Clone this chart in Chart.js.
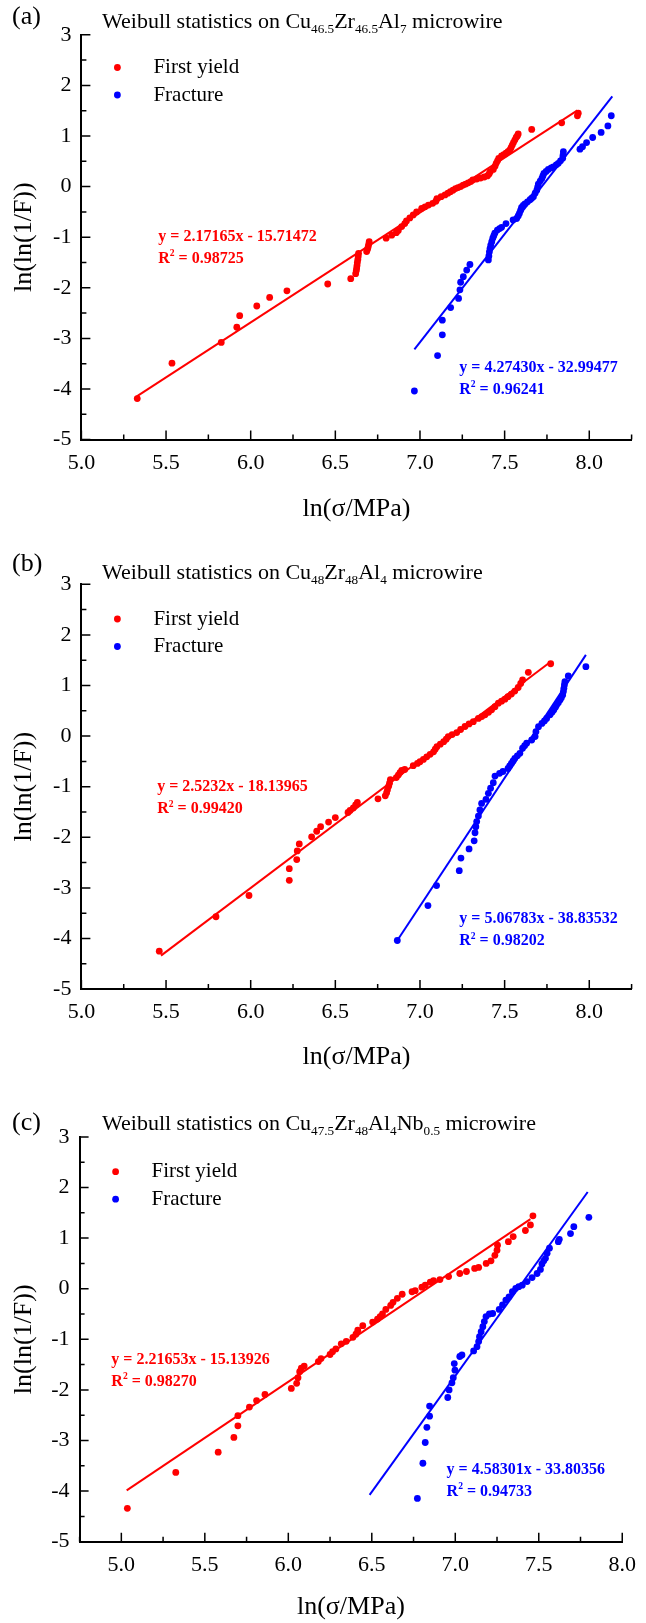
<!DOCTYPE html>
<html>
<head>
<meta charset="utf-8">
<script src="https://cdn.jsdelivr.net/npm/chart.js@4.4.0/dist/chart.umd.min.js"></script>
<style>
body { margin: 0; background: #fff; }
#wrap { position: relative; width: 646px; height: 1623px; }
canvas { position: absolute; left: 0; }
</style>
</head>
<body>
<div id="wrap">
  <canvas id="chartA" width="646" height="540" style="top:0"></canvas>
  <canvas id="chartB" width="646" height="540" style="top:540px"></canvas>
  <canvas id="chartC" width="646" height="543" style="top:1080px"></canvas>
</div>
<script>
const FONT = "'Liberation Serif', 'Times New Roman', serif";
const RED = '#ff0000';
const BLUE = '#0000ff';

//(a) Cu46.5Zr46.5Al7
const yieldA_x = [5.33, 5.535, 5.826, 5.918, 5.935, 6.036, 6.112, 6.214, 6.455, 6.591, 6.62, 6.624, 6.626, 6.628, 6.63, 6.633, 6.635, 6.637,
  6.685, 6.69, 6.694, 6.697, 6.7, 6.8, 6.833, 6.86, 6.872, 6.892, 6.91, 6.92, 6.94, 6.96, 6.98, 7.01, 7.03, 7.05, 7.075, 7.094, 7.1,
  7.125, 7.148, 7.165, 7.18, 7.195, 7.21, 7.225, 7.24, 7.255, 7.27, 7.285, 7.3, 7.312, 7.335, 7.358, 7.38, 7.398, 7.408, 7.415, 7.433,
  7.443, 7.45, 7.458, 7.465, 7.482, 7.495, 7.508, 7.52, 7.53, 7.538, 7.545, 7.552, 7.56, 7.568, 7.575, 7.58, 7.66, 7.837, 7.93, 7.935];
const yieldA_y = [-4.19, -3.49, -3.08, -2.78, -2.55, -2.36, -2.19, -2.06, -1.925, -1.82, -1.72, -1.66, -1.61, -1.56, -1.5, -1.44, -1.38, -1.32,
  -1.285, -1.24, -1.19, -1.14, -1.09, -1.02, -0.96, -0.91, -0.87, -0.79, -0.73, -0.68, -0.62, -0.56, -0.5, -0.43, -0.4, -0.365, -0.33, -0.29, -0.24,
  -0.2, -0.165, -0.13, -0.1, -0.07, -0.04, -0.02, 0, 0.03, 0.05, 0.075, 0.1, 0.13, 0.15, 0.17, 0.19, 0.21, 0.25, 0.295, 0.34,
  0.4, 0.46, 0.51, 0.555, 0.605, 0.63, 0.66, 0.69, 0.72, 0.77, 0.82, 0.87, 0.92, 0.97, 1.0, 1.04, 1.13, 1.26, 1.4, 1.45];
const fractureA_x = [6.967, 7.104, 7.132, 7.132, 7.181, 7.228, 7.236, 7.24, 7.256, 7.276, 7.295, 7.404, 7.407, 7.41, 7.414, 7.418, 7.424,
  7.43, 7.436, 7.442, 7.457, 7.47, 7.482, 7.508, 7.55, 7.571, 7.58, 7.587, 7.594, 7.6, 7.61, 7.62, 7.635, 7.65, 7.66, 7.67, 7.68, 7.69,
  7.695, 7.699, 7.71, 7.72, 7.726, 7.732, 7.745, 7.758, 7.775, 7.788, 7.805, 7.817, 7.83, 7.843, 7.845, 7.847, 7.945, 7.96, 7.984,
  8.02, 8.07, 8.11, 8.13];
const fractureA_y = [-4.04, -3.34, -2.93, -2.64, -2.39, -2.21, -2.04, -1.89, -1.78, -1.65, -1.54, -1.45, -1.37, -1.29, -1.22, -1.155, -1.09,
  -1.02, -0.97, -0.92, -0.86, -0.83, -0.805, -0.73, -0.66, -0.63, -0.58, -0.53, -0.47, -0.41, -0.37, -0.34, -0.3, -0.26, -0.23, -0.2, -0.13, -0.07,
  -0.01, 0.05, 0.11, 0.16, 0.21, 0.26, 0.3, 0.34, 0.37, 0.39, 0.43, 0.46, 0.51, 0.56, 0.62, 0.69, 0.74, 0.79, 0.87,
  0.97, 1.07, 1.2, 1.4];
// [slope, intercept, x start, x end]
const fitA = [[2.17165, -15.71472, 5.327, 7.93], [4.27430, -32.99477, 6.967, 8.136]];
const eqA = [['y = 2.17165x - 15.71472', '0.98725'], ['y = 4.27430x - 32.99477', '0.96241']];

//(b) Cu48Zr48Al4
const yieldB_x = [5.46, 5.795, 5.99, 6.228, 6.228, 6.272, 6.275, 6.287, 6.36, 6.39, 6.413, 6.46, 6.5, 6.575, 6.587, 6.606, 6.62, 6.63,
  6.752, 6.795, 6.803, 6.808, 6.815, 6.82, 6.825, 6.86, 6.872, 6.882, 6.892, 6.91, 6.96, 6.985, 7.0, 7.02, 7.04, 7.06, 7.08, 7.09, 7.1,
  7.12, 7.14, 7.155, 7.167, 7.19, 7.217, 7.24, 7.266, 7.29, 7.315, 7.345, 7.365, 7.384, 7.405, 7.423, 7.443, 7.463, 7.482, 7.502,
  7.52, 7.54, 7.56, 7.58, 7.595, 7.606, 7.64, 7.772];
const yieldB_y = [-4.25, -3.57, -3.15, -2.85, -2.62, -2.44, -2.27, -2.13, -1.99, -1.88, -1.79, -1.7, -1.61, -1.51, -1.47, -1.42, -1.36, -1.31,
  -1.24, -1.18, -1.12, -1.06, -0.99, -0.93, -0.86, -0.82, -0.77, -0.72, -0.68, -0.66, -0.585, -0.54, -0.505, -0.46, -0.41, -0.36, -0.31, -0.26, -0.21,
  -0.16, -0.11, -0.06, -0.01, 0.03, 0.07, 0.13, 0.19, 0.24, 0.285, 0.35, 0.385, 0.42, 0.47, 0.52, 0.58, 0.65, 0.69, 0.73,
  0.78, 0.83, 0.89, 0.96, 1.04, 1.11, 1.26, 1.43];
const fractureB_x = [6.866, 7.047, 7.098, 7.232, 7.242, 7.29, 7.32, 7.325, 7.33, 7.335, 7.345, 7.354, 7.364, 7.39, 7.404, 7.417, 7.433,
  7.443, 7.47, 7.49, 7.52, 7.53, 7.54, 7.55, 7.56, 7.575, 7.59, 7.606, 7.618, 7.63, 7.66, 7.68, 7.685, 7.7, 7.72, 7.735, 7.748, 7.768,
  7.78, 7.79, 7.8, 7.807, 7.817, 7.827, 7.835, 7.843, 7.847, 7.85, 7.853, 7.856, 7.876, 7.98];
const fractureB_y = [-4.04, -3.35, -2.955, -2.66, -2.41, -2.23, -2.07, -1.91, -1.79, -1.69, -1.58, -1.46, -1.33, -1.25, -1.13, -1.03, -0.92,
  -0.79, -0.735, -0.7, -0.64, -0.59, -0.54, -0.49, -0.44, -0.39, -0.34, -0.24, -0.19, -0.14, -0.077, -0.01, 0.088, 0.186, 0.25, 0.3, 0.35, 0.42,
  0.47, 0.517, 0.57, 0.615, 0.66, 0.714, 0.76, 0.813, 0.88, 0.945, 1.01, 1.076, 1.188, 1.372];
const fitB = [[2.5232, -18.13965, 5.47, 7.77], [5.06783, -38.83532, 6.858, 7.98]];
const eqB = [['y = 2.5232x - 18.13965', '0.99420'], ['y = 5.06783x - 38.83532', '0.98202']];

//(c) Cu47.5Zr48Al4Nb0.5
const yieldC_x = [5.036, 5.326, 5.58, 5.674, 5.698, 5.698, 5.767, 5.81, 5.86, 6.018, 6.05, 6.058, 6.068, 6.078, 6.095, 6.18, 6.196, 6.25,
  6.265, 6.285, 6.317, 6.347, 6.387, 6.405, 6.416, 6.446, 6.505, 6.534, 6.55, 6.564, 6.584, 6.613, 6.627, 6.653, 6.682, 6.741, 6.76,
  6.8, 6.82, 6.85, 6.87, 6.908, 6.96, 7.027, 7.067, 7.116, 7.14, 7.185, 7.214, 7.237, 7.25, 7.253, 7.318, 7.347, 7.42, 7.45, 7.465];
const yieldC_y = [-4.34, -3.63, -3.23, -2.94, -2.71, -2.51, -2.34, -2.21, -2.09, -1.97, -1.87, -1.76, -1.64, -1.57, -1.53, -1.44, -1.38, -1.3,
  -1.245, -1.19, -1.09, -1.04, -0.96, -0.9, -0.82, -0.73, -0.66, -0.6, -0.55, -0.5, -0.41, -0.33, -0.27, -0.19, -0.11, -0.06, -0.04,
  0.03, 0.07, 0.13, 0.16, 0.18, 0.24, 0.3, 0.34, 0.4, 0.42, 0.5, 0.55, 0.66, 0.76, 0.86, 0.93, 1.03, 1.15, 1.26, 1.44];
const fractureC_x = [6.773, 6.806, 6.82, 6.83, 6.846, 6.846, 6.955, 6.963, 6.98, 6.988, 6.998, 6.994, 7.027, 7.04, 7.11, 7.13, 7.14,
  7.145, 7.155, 7.165, 7.174, 7.184, 7.204, 7.224, 7.263, 7.283, 7.303, 7.322, 7.342, 7.362, 7.38, 7.401, 7.43, 7.46, 7.49, 7.51,
  7.519, 7.53, 7.54, 7.55, 7.564, 7.617, 7.623, 7.69, 7.71, 7.8];
const fractureC_y = [-4.145, -3.45, -3.04, -2.74, -2.52, -2.32, -2.15, -2.0, -1.86, -1.76, -1.61, -1.48, -1.34, -1.31, -1.23, -1.145, -1.045,
  -0.95, -0.85, -0.75, -0.65, -0.55, -0.5, -0.49, -0.41, -0.32, -0.225, -0.16, -0.06, 0.007, 0.04, 0.07, 0.14, 0.22, 0.3, 0.38,
  0.49, 0.55, 0.6, 0.7, 0.8, 0.93, 0.975, 1.09, 1.225, 1.41];
const fitC = [[2.21653, -15.13926, 5.032, 7.45], [4.58301, -33.80356, 6.487, 7.793]];
const eqC = [['y = 2.21653x - 15.13926', '0.98270'], ['y = 4.58301x - 33.80356', '0.94733']];

const yRange = [-5, 3];
const legendNames = ['First yield', 'Fracture'];

const panels = [
  { canvas: 'chartA', height: 540, tag: '(a)', tagY: 17, titleY: 22, legendY: 67.5,
    title: [['Weibull statistics on Cu', ''], ['46.5', 'sub'], ['Zr', ''], ['46.5', 'sub'], ['Al', ''], ['7', 'sub'], [' microwire', '']],
    xRange: [5, 8.25], area: { left: 81.4, right: 631.6, top: 34.8, bottom: 439.6 }, xTitleBottom: 524.6,
    yx: yieldA_x, yy: yieldA_y, fx: fractureA_x, fy: fractureA_y, fit: fitA, eq: eqA,
    eqPos: [[5.454, -0.99], [7.232, -3.58]] },
  { canvas: 'chartB', height: 540, tag: '(b)', tagY: 24, titleY: 33.6, legendY: 79,
    title: [['Weibull statistics on Cu', ''], ['48', 'sub'], ['Zr', ''], ['48', 'sub'], ['Al', ''], ['4', 'sub'], [' microwire', '']],
    xRange: [5, 8.25], area: { left: 81.4, right: 631.6, top: 44.3, bottom: 449.1 }, xTitleBottom: 532.6,
    yx: yieldB_x, yy: yieldB_y, fx: fractureB_x, fy: fractureB_y, fit: fitB, eq: eqB,
    eqPos: [[5.448, -1.01], [7.232, -3.62]] },
  { canvas: 'chartC', height: 543, tag: '(c)', tagY: 43, titleY: 44, legendY: 91.7,
    title: [['Weibull statistics on Cu', ''], ['47.5', 'sub'], ['Zr', ''], ['48', 'sub'], ['Al', ''], ['4', 'sub'], ['Nb', ''], ['0.5', 'sub'], [' microwire', '']],
    xRange: [4.75, 8], area: { left: 79.6, right: 629.8, top: 56.9, bottom: 461.7 }, xTitleBottom: 543,
    yx: yieldC_x, yy: yieldC_y, fx: fractureC_x, fy: fractureC_y, fit: fitC, eq: eqC,
    eqPos: [[4.94, -1.41], [6.948, -3.58]] }
];

const pts = (xs, ys) => xs.map((x, i) => ({ x, y: ys[i] }));
const fitLine = f => [{ x: f[2], y: f[0] * f[2] + f[1] }, { x: f[3], y: f[0] * f[3] + f[1] }];

//text with sub/superscripts, drawn left to right
const richText = (ctx, parts, x, y, size, weight, color) => {
  ctx.fillStyle = color;
  ctx.textBaseline = 'middle';
  ctx.textAlign = 'left';
  parts.forEach(([txt, kind]) => {
    const s = kind ? size * 0.6 : size;
    ctx.font = `${weight} ${s}px ${FONT}`;
    const dy = kind === 'sub' ? size * 0.32 : kind === 'sup' ? -size * 0.32 : 0;
    ctx.fillText(txt, x, y + dy);
    x += ctx.measureText(txt).width;
  });
};

const decorate = p => ({
  id: 'decorate',
  afterDraw(chart) {
    const { ctx, chartArea: a, scales: { x, y } } = chart;
    ctx.save();
    //inward ticks
    ctx.strokeStyle = '#000';
    ctx.lineWidth = 1.5;
    ctx.beginPath();
    x.ticks.forEach(t => {
      const px = x.getPixelForValue(t.value);
      const len = t.label ? 9 : 5;
      ctx.moveTo(px, a.bottom);
      ctx.lineTo(px, a.bottom - len);
    });
    y.ticks.forEach(t => {
      const py = y.getPixelForValue(t.value);
      const len = t.label ? 9 : 5;
      ctx.moveTo(a.left, py);
      ctx.lineTo(a.left + len, py);
    });
    ctx.stroke();

    richText(ctx, [[p.tag, '']], 12, p.tagY, 26, 'normal', '#000');
    richText(ctx, p.title, 102, p.titleY, 22, 'normal', '#000');

    //legend
    [RED, BLUE].forEach((c, i) => {
      const ly = p.legendY + i * 27.5;
      ctx.fillStyle = c;
      ctx.beginPath();
      ctx.arc(a.left + 36, ly, 3.4, 0, Math.PI * 2);
      ctx.fill();
      richText(ctx, [[legendNames[i], '']], a.left + 72, ly, 21, 'normal', '#000');
    });

    //fit equations
    p.eq.forEach(([eqText, r2], i) => {
      const c = i ? BLUE : RED;
      const ex = x.getPixelForValue(p.eqPos[i][0]);
      const ey = y.getPixelForValue(p.eqPos[i][1]);
      richText(ctx, [[eqText, '']], ex, ey, 16, 'bold', c);
      richText(ctx, [['R', ''], ['2', 'sup'], [' = ' + r2, '']], ex, ey + 22, 16, 'bold', c);
    });
    ctx.restore();
  }
});

const isHalf = v => Math.abs(v * 2 - Math.round(v * 2)) < 1e-9;

panels.forEach(p => {
  const a = p.area;
  const scatter = (data, c) => ({ data, pointRadius: 3.4, pointBackgroundColor: c, pointBorderWidth: 0, showLine: false });
  const line = (data, c) => ({ data, showLine: true, borderColor: c, borderWidth: 2, pointRadius: 0, fill: false });
  new Chart(document.getElementById(p.canvas), {
    type: 'scatter',
    data: {
      datasets: [
        scatter(pts(p.yx, p.yy), RED),
        scatter(pts(p.fx, p.fy), BLUE),
        line(fitLine(p.fit[0]), RED),
        line(fitLine(p.fit[1]), BLUE)
      ]
    },
    options: {
      responsive: false,
      animation: false,
      devicePixelRatio: 1,
      events: [],
      layout: { padding: { left: 0, right: 646 - a.right, top: a.top, bottom: p.height - p.xTitleBottom } },
      plugins: { legend: { display: false }, tooltip: { enabled: false } },
      scales: {
        x: {
          type: 'linear', position: 'bottom', min: p.xRange[0], max: p.xRange[1],
          afterFit: s => { s.height = p.xTitleBottom - a.bottom; },
          grid: { display: false, drawTicks: false },
          border: { display: true, color: '#000', width: 2 },
          ticks: {
            stepSize: 0.25, autoSkip: false, maxRotation: 0, minRotation: 0, padding: 10, color: '#000',
            font: { family: FONT, size: 22 },
            callback: v => isHalf(v) ? v.toFixed(1) : ''
          },
          title: { display: true, text: 'ln(σ/MPa)', color: '#000', font: { family: FONT, size: 26 }, padding: 0 }
        },
        y: {
          type: 'linear', position: 'left', min: yRange[0], max: yRange[1],
          afterFit: s => { s.width = a.left; },
          grid: { display: false, drawTicks: false },
          border: { display: true, color: '#000', width: 2 },
          ticks: {
            stepSize: 0.5, autoSkip: false, padding: 10, color: '#000',
            font: { family: FONT, size: 22 },
            callback: v => Number.isInteger(v) ? String(v) : ''
          },
          title: { display: true, text: 'ln(ln(1/F))', color: '#000', font: { family: FONT, size: 26 }, padding: { top: 9, bottom: 0 } }
        }
      }
    },
    plugins: [decorate(p)]
  });
});
</script>
</body>
</html>
